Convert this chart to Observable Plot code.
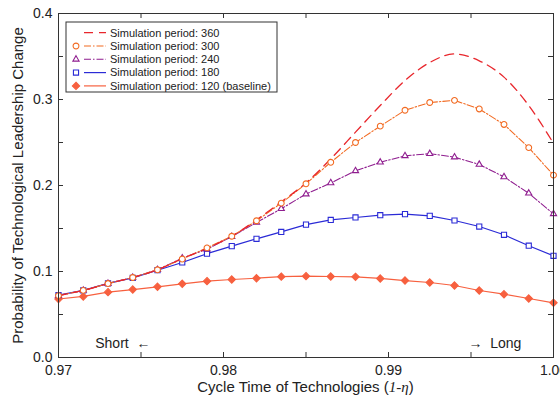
<!DOCTYPE html>
<html>
<head>
<meta charset="utf-8">
<script src="https://cdn.jsdelivr.net/npm/d3@7"></script>
<script src="https://cdn.jsdelivr.net/npm/@observablehq/plot@0.6"></script>
<style>
  html, body { margin: 0; padding: 0; background: white; }
  #chart svg { display: block; }
</style>
</head>
<body>
<div id="chart"></div>
<script>
// Cycle time of technologies (1 - eta)
const cycleTime = [0.97, 0.9715, 0.973, 0.9745, 0.976, 0.9775, 0.979, 0.9805, 0.982, 0.9835, 0.985,
                   0.9865, 0.988, 0.9895, 0.991, 0.9925, 0.994, 0.9955, 0.997, 0.9985, 1.0];

// Probability of technological leadership change, one array per simulation period
const period360 = [0.072, 0.078, 0.086, 0.093, 0.102, 0.115, 0.127, 0.141, 0.160, 0.181, 0.203,
                   0.231, 0.262, 0.293, 0.322, 0.343, 0.353, 0.345, 0.326, 0.293, 0.249];
const period300 = [0.072, 0.078, 0.086, 0.093, 0.102, 0.1145, 0.1275, 0.141, 0.159, 0.1795, 0.202,
                   0.227, 0.250, 0.269, 0.2875, 0.2965, 0.299, 0.289, 0.271, 0.244, 0.212];
const period240 = [0.072, 0.078, 0.086, 0.093, 0.102, 0.1155, 0.126, 0.1405, 0.157, 0.173, 0.190,
                   0.203, 0.217, 0.227, 0.2345, 0.237, 0.233, 0.2245, 0.210, 0.191, 0.167];
const period180 = [0.0725, 0.078, 0.0862, 0.0926, 0.1015, 0.1105, 0.1207, 0.1295, 0.138, 0.146, 0.1545,
                   0.160, 0.1628, 0.1655, 0.1667, 0.1647, 0.1593, 0.1523, 0.1427, 0.130, 0.1182];
const period120 = [0.068, 0.071, 0.076, 0.079, 0.0822, 0.0857, 0.0888, 0.0907, 0.0922, 0.094, 0.0946,
                   0.0942, 0.0938, 0.0919, 0.0895, 0.0872, 0.0837, 0.0779, 0.0736, 0.0686, 0.0636];

const seriesLabels = ["Simulation period: 360", "Simulation period: 300", "Simulation period: 240",
                      "Simulation period: 180", "Simulation period: 120 (baseline)"];

// Axis ticks
const xMajorTicks = [0.97, 0.98, 0.99, 1.0];
const xMinorTicks = [0.97, 0.975, 0.98, 0.985, 0.99, 0.995, 1.0];
const yMajorTicks = [0.0, 0.1, 0.2, 0.3, 0.4];
const yMinorTicks = [0, 0.05, 0.1, 0.15, 0.2, 0.25, 0.3, 0.35, 0.4];

// Direction notes inside the plot area
const notes = [
  {x: 0.9739, y: 0.016, text: "Short\u00a0\u00a0\u2190"},
  {x: 0.99645, y: 0.016, text: "\u2192\u00a0\u00a0Long"}
];

// Drawing style of each series (same order as the labels)
const styles = [
  {values: period360, color: "#e8262c", dash: "9,6", symbol: null, fill: "none", r: 0, width: 1.3},
  {values: period300, color: "#f26a21", dash: "7,2,1.5,2", symbol: "circle", fill: "white", r: 2.9, width: 1.1},
  {values: period240, color: "#8f1d8f", dash: "7,2,1.5,2", symbol: "triangle", fill: "white", r: 2.3, width: 1.1},
  {values: period180, color: "#2b2bd6", dash: null, symbol: "square", fill: "white", r: 2.9, width: 1.2},
  {values: period120, color: "#f7603f", dash: null, symbol: "diamond2", fill: "#f7603f", r: 3.3, width: 1.2}
];

const rowsOf = (s) => cycleTime.map((x, i) => ({x, y: s.values[i]}));

const width = 560, height = 400;
const margin = {top: 13, right: 7, bottom: 43, left: 58};
const innerW = width - margin.left - margin.right;
const innerH = height - margin.top - margin.bottom;
const tickLen = 5;

const drawOrder = [4, 3, 2, 1, 0];

const marks = [];
for (const k of drawOrder) {
  const s = styles[k];
  marks.push(Plot.line(rowsOf(s), {
    x: "x", y: "y", stroke: s.color, strokeWidth: s.width,
    strokeDasharray: s.dash ?? undefined,
    curve: s.symbol ? "linear" : "monotone-x"
  }));
}
for (const k of drawOrder) {
  const s = styles[k];
  if (!s.symbol) continue;
  marks.push(Plot.dot(rowsOf(s), {
    x: "x", y: "y", symbol: () => s.symbol, r: s.r,
    stroke: s.color, fill: s.fill, strokeWidth: 1.1
  }));
}

const chart = Plot.plot({
  width, height,
  marginTop: margin.top, marginRight: margin.right,
  marginBottom: margin.bottom, marginLeft: margin.left,
  style: {fontFamily: "'Liberation Sans', Arial, sans-serif", fontSize: "14px", background: "white", color: "#222"},
  x: {domain: [0.97, 1.0]},
  y: {domain: [0, 0.4]},
  marks: [
    // inward ticks on all four sides
    Plot.tickX(xMinorTicks, {x: d => d, insetTop: innerH - tickLen, stroke: "#333"}),
    Plot.tickX(xMinorTicks, {x: d => d, insetBottom: innerH - tickLen, stroke: "#333"}),
    Plot.tickY(yMinorTicks, {y: d => d, insetRight: innerW - tickLen, stroke: "#333"}),
    Plot.tickY(yMinorTicks, {y: d => d, insetLeft: innerW - tickLen, stroke: "#333"}),
    Plot.axisX(xMajorTicks, {tickSize: 0, tickPadding: 8, tickFormat: d3.format(".2f"), label: null, fontSize: 14}),
    Plot.axisY(yMajorTicks, {tickSize: 0, tickPadding: 6, tickFormat: d3.format(".1f"), label: null, fontSize: 14}),
    ...marks,
    Plot.text(notes, {x: "x", y: "y", text: "text", fontSize: 14, fill: "#222"}),
    Plot.text(["Probability of Technological Leadership Change"], {
      frameAnchor: "left", textAnchor: "middle", dx: -40, rotate: -90, fontSize: 15, fill: "#222"
    }),
    Plot.frame({stroke: "#333", strokeWidth: 1})
  ]
});

document.getElementById("chart").append(chart);

const svg = d3.select(chart);

// x-axis title with the italic serif expression
const xTitle = svg.append("text")
  .attr("x", margin.left + innerW / 2)
  .attr("y", height - 8)
  .attr("text-anchor", "middle")
  .attr("font-size", 15)
  .attr("fill", "#222");
xTitle.append("tspan").text("Cycle Time of Technologies (");
xTitle.append("tspan")
  .attr("font-family", "'Liberation Serif', 'DejaVu Serif', serif")
  .attr("font-style", "italic")
  .text("1-\u03b7");
xTitle.append("tspan").text(")");

// legend box
const legend = svg.append("g").attr("transform", "translate(66,22)");
legend.append("rect")
  .attr("width", 211).attr("height", 70)
  .attr("fill", "white").attr("stroke", "#333").attr("stroke-width", 1);

const symbolTypes = {circle: d3.symbolCircle, triangle: d3.symbolTriangle, square: d3.symbolSquare, diamond2: d3.symbolDiamond2};
styles.forEach((s, i) => {
  const cy = 10.7 + i * 13.3;
  const row = legend.append("g").attr("transform", `translate(0,${cy})`);
  row.append("line")
    .attr("x1", 18).attr("x2", 40).attr("y1", 0).attr("y2", 0)
    .attr("stroke", s.color).attr("stroke-width", s.width)
    .attr("stroke-dasharray", s.dash ?? null);
  if (s.symbol) {
    row.append("path")
      .attr("transform", "translate(10,0)")
      .attr("d", d3.symbol(symbolTypes[s.symbol], Math.PI * s.r * s.r)())
      .attr("fill", s.fill).attr("stroke", s.color).attr("stroke-width", 1.1);
  }
  row.append("text")
    .attr("x", 44).attr("y", 0).attr("dy", "0.35em")
    .attr("text-anchor", "start")
    .attr("font-size", 11).attr("fill", "#222")
    .text(seriesLabels[i]);
});
</script>
</body>
</html>
